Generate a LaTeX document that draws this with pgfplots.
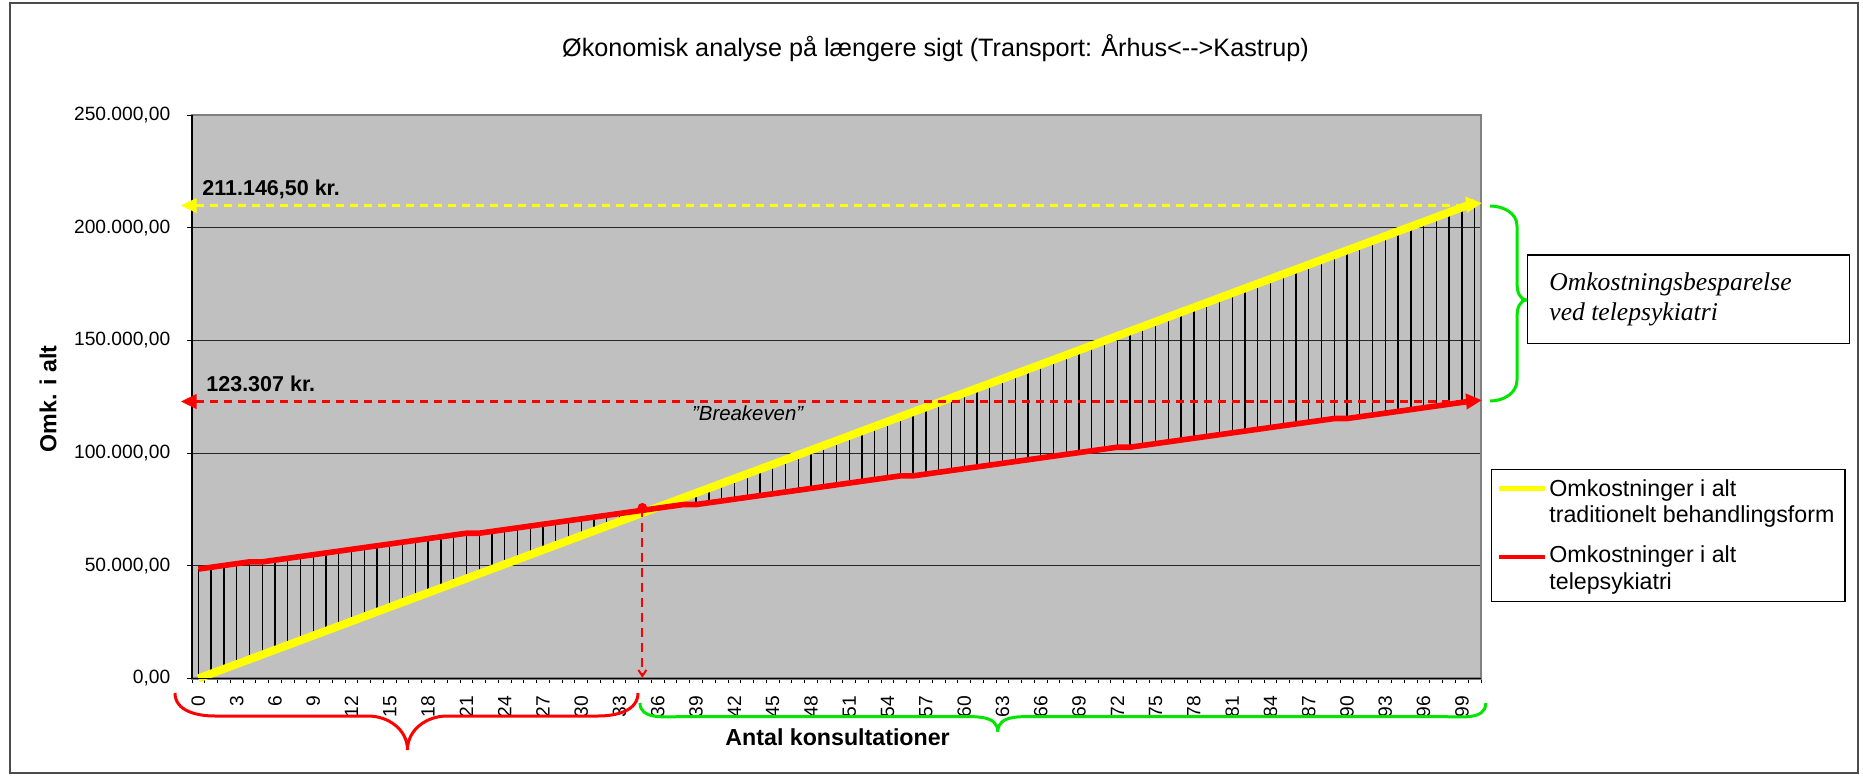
\documentclass[border=0pt]{standalone}
\usepackage{pgfplots}
\pgfplotsset{compat=1.18}
\usepackage{pgfplotstable}
\usepackage{fontspec}
\setmainfont{Liberation Sans}
\newfontfamily\serifit{Liberation Serif}
\usetikzlibrary{arrows.meta}
\definecolor{plotgray}{RGB}{192,192,192}
\definecolor{bordergray}{RGB}{128,128,128}
\definecolor{xlyellow}{RGB}{255,255,0}
\definecolor{xlred}{RGB}{255,0,0}
\definecolor{xlgreen}{RGB}{0,230,0}
\newcommand{\ftick}{\fontsize{9.6bp}{11bp}\selectfont}
\newcommand{\flab}{\fontsize{11.6bp}{13bp}\selectfont}

\pgfplotstableread{
n yel red
0 0 48550
1 2111.5 49345.3
2 4222.9 50140.6
3 6334.4 50935.9
4 8445.9 51731.2
5 10557.3 51731.2
6 12668.8 52526.5
7 14780.3 53321.8
8 16891.7 54117.1
9 19003.2 54912.4
10 21114.7 55707.7
11 23226.1 56503.0
12 25337.6 57298.3
13 27449.0 58093.6
14 29560.5 58888.9
15 31672.0 59684.2
16 33783.4 60479.5
17 35894.9 61274.8
18 38006.4 62070.1
19 40117.8 62865.4
20 42229.3 63660.7
21 44340.8 64456.0
22 46452.2 64456.0
23 48563.7 65251.3
24 50675.2 66046.6
25 52786.6 66841.9
26 54898.1 67637.2
27 57009.6 68432.5
28 59121.0 69227.8
29 61232.5 70023.1
30 63344.0 70818.4
31 65455.4 71613.7
32 67566.9 72409.0
33 69678.3 73204.3
34 71789.8 73999.6
35 73901.3 74794.9
36 76012.7 75590.2
37 78124.2 76385.5
38 80235.7 77180.8
39 82347.1 77180.8
40 84458.6 77976.1
41 86570.1 78771.4
42 88681.5 79566.7
43 90793.0 80362.0
44 92904.5 81157.3
45 95015.9 81952.6
46 97127.4 82747.9
47 99238.9 83543.2
48 101350.3 84338.5
49 103461.8 85133.8
50 105573.3 85929.1
51 107684.7 86724.4
52 109796.2 87519.7
53 111907.6 88315.0
54 114019.1 89110.3
55 116130.6 89905.6
56 118242.0 89905.6
57 120353.5 90700.9
58 122465.0 91496.2
59 124576.4 92291.5
60 126687.9 93086.8
61 128799.4 93882.1
62 130910.8 94677.4
63 133022.3 95472.7
64 135133.8 96268.0
65 137245.2 97063.3
66 139356.7 97858.6
67 141468.2 98653.9
68 143579.6 99449.2
69 145691.1 100244.5
70 147802.6 101039.8
71 149914.0 101835.1
72 152025.5 102630.4
73 154136.9 102630.4
74 156248.4 103425.7
75 158359.9 104221.0
76 160471.3 105016.3
77 162582.8 105811.6
78 164694.3 106606.9
79 166805.7 107402.2
80 168917.2 108197.5
81 171028.7 108992.8
82 173140.1 109788.1
83 175251.6 110583.4
84 177363.1 111378.7
85 179474.5 112174.0
86 181586.0 112969.3
87 183697.5 113764.6
88 185808.9 114559.9
89 187920.4 115355.2
90 190031.9 115355.2
91 192143.3 116150.5
92 194254.8 116945.8
93 196366.2 117741.1
94 198477.7 118536.4
95 200589.2 119331.7
96 202700.6 120127.0
97 204812.1 120922.3
98 206923.6 121717.6
99 209035.0 122512.9
100 211146.5 123307.0
}\costs

\begin{document}
\begin{tikzpicture}[x=0.5bp,y=-0.5bp]
\path[use as bounding box] (0,0) rectangle (1863,776);
\draw[black!70, line width=1bp] (10,3) rectangle (1858,773);
\node[anchor=base, inner sep=0pt, font=\fontsize{12.6bp}{15bp}\selectfont] at (935.5,56.5)
  {Økonomisk analyse på længere sigt (Transport: Århus<-{}->Kastrup)};

\begin{axis}[
  at={(96bp,-339.2bp)}, anchor=south west, scale only axis,
  width=644.5bp, height=281.6bp,
  xmin=-0.5, xmax=100.5, ymin=0, ymax=250000,
  clip=false,
  scaled y ticks=false,
  axis background/.style={fill=plotgray},
  axis line style={draw=bordergray, line width=1.2bp},
  tick align=outside,
  xtick pos=left, ytick pos=left,
  major tick length=2.5bp, minor tick length=2.5bp,
  every tick/.append style={black, line width=0.5bp},
  every major x tick/.append style={draw=none},
  ytick={0,50000,100000,150000,200000,250000},
  yticklabels={{0,00},{50.000,00},{100.000,00},{150.000,00},{200.000,00},{250.000,00}},
  yticklabel style={font=\ftick, inner sep=0pt},
  yticklabel shift=8.2bp,
  ymajorgrids, major grid style={black!85, line width=0.6bp},
  xtick={0,3,...,99},
  xticklabels={0,3,6,9,12,15,18,21,24,27,30,33,36,39,42,45,48,51,54,57,60,63,66,69,72,75,78,81,84,87,90,93,96,99},
  xticklabel style={font=\ftick, rotate=90, anchor=east, inner sep=0pt},
  xticklabel shift=6bp,
  minor xtick={-0.5,0.5,...,100.51},
]
% drop lines (high-low lines)
\addplot[draw=none, mark=none, forget plot, restrict x to domain=0:35.5,
  error bars/.cd, y dir=plus, y explicit, error mark=none,
  error bar style={draw=black, line width=0.65bp, solid}]
  table[x=n, y=yel, y error plus expr=\thisrow{red}-\thisrow{yel}] {\costs};
\addplot[draw=none, mark=none, forget plot, restrict x to domain=35.5:100.5,
  error bars/.cd, y dir=plus, y explicit, error mark=none,
  error bar style={draw=black, line width=0.65bp, solid}]
  table[x=n, y=red, y error plus expr=\thisrow{yel}-\thisrow{red}] {\costs};
% series
\addplot[xlyellow, line width=4bp, line join=round, mark=none] table[x=n, y=yel] {\costs};
\addplot[xlred, line width=2.8bp, line join=round, mark=none] table[x=n, y=red] {\costs};
% end arrows
\draw[xlyellow, line width=4bp, -{Triangle[length=8bp,width=7.5bp]}] (axis cs:99.4,210300) -- (axis cs:100.58,211000);
\draw[xlred, line width=2.8bp, -{Triangle[length=8bp,width=7.5bp]}] (axis cs:99.4,122990) -- (axis cs:100.58,123500);
% axis black lines
\draw[black, line width=0.8bp] (rel axis cs:0,1) -- (rel axis cs:0,0) -- (rel axis cs:1,0);
% breakeven
\draw[xlred, line width=1bp, dash pattern=on 4.5bp off 3bp, -{Straight Barb[length=3bp,width=4bp]}]
  (axis cs:34.79,75770) -- (axis cs:34.79,300);
\fill[xlred] (axis cs:34.79,75770) circle[radius=2.4bp];
\end{axis}

% dashed level arrows
\draw[xlyellow, line width=1.1bp, dash pattern=on 4bp off 3bp, {Triangle[length=7.8bp,width=7.3bp]}-] (181,205.5) -- (1468,205.5);
\draw[xlred, line width=1.1bp, dash pattern=on 4bp off 3bp, {Triangle[length=7.8bp,width=7.3bp]}-] (181,401.5) -- (1468,401.5);

% text annotations
\node[anchor=base west, inner sep=0pt, font=\fontsize{10.75bp}{12bp}\selectfont\bfseries] at (202,195) {211.146,50 kr.};
\node[anchor=base west, inner sep=0pt, font=\fontsize{10.75bp}{12bp}\selectfont\bfseries] at (206,391) {123.307 kr.};
\node[anchor=base west, inner sep=0pt, font=\fontsize{10.2bp}{12bp}\selectfont\itshape] at (691.7,420) {”Breakeven”};

% axis titles
\node[rotate=90, inner sep=0pt, font=\flab\bfseries] at (48,399) {Omk. i alt};
\node[anchor=base, inner sep=0pt, font=\flab\bfseries] at (837.6,745) {Antal konsultationer};

% braces
\draw[xlgreen, line width=1.5bp] (1490,206) to[out=0,in=90] (1517,226) -- (1517,284) to[out=-90,in=180] (1527,300)
  to[out=180,in=90] (1517,316) -- (1517,380) to[out=-90,in=0] (1490,401);
\draw[xlgreen, line width=1.5bp] (640,703) to[out=-90,in=180] (680,716.7) -- (956,716.7) to[out=0,in=90] (997.8,731.7)
  to[out=90,in=180] (1040,716.7) -- (1444,716.7) to[out=0,in=-90] (1485.8,703);
\draw[xlred, line width=1.5bp] (175,693) to[out=-90,in=180] (215,716) -- (368,716) to[out=0,in=90] (407.5,750)
  to[out=90,in=180] (447,716) -- (598,716) to[out=0,in=-90] (638,693);

% savings box
\draw[black, line width=0.7bp, fill=white] (1527.7,255) rectangle (1849.6,343.3);
\node[anchor=base west, inner sep=0pt, font=\fontsize{12.8bp}{15bp}\selectfont\serifit\itshape] at (1549,290) {Omkostningsbesparelse};
\node[anchor=base west, inner sep=0pt, font=\fontsize{12.8bp}{15bp}\selectfont\serifit\itshape] at (1549,320) {ved telepsykiatri};

% legend
\draw[black, line width=0.6bp, fill=white] (1491.7,469.3) rectangle (1845,601.7);
\draw[xlyellow, line width=2.5bp] (1499,488) -- (1545,488);
\draw[xlred, line width=2bp] (1499,556.7) -- (1545,556.7);
\node[anchor=base west, inner sep=0pt, font=\flab] at (1549,496) {Omkostninger i alt};
\node[anchor=base west, inner sep=0pt, font=\flab] at (1549,522.7) {traditionelt behandlingsform};
\node[anchor=base west, inner sep=0pt, font=\flab] at (1549,562.7) {Omkostninger i alt};
\node[anchor=base west, inner sep=0pt, font=\flab] at (1549,589.3) {telepsykiatri};
\end{tikzpicture}
\end{document}
